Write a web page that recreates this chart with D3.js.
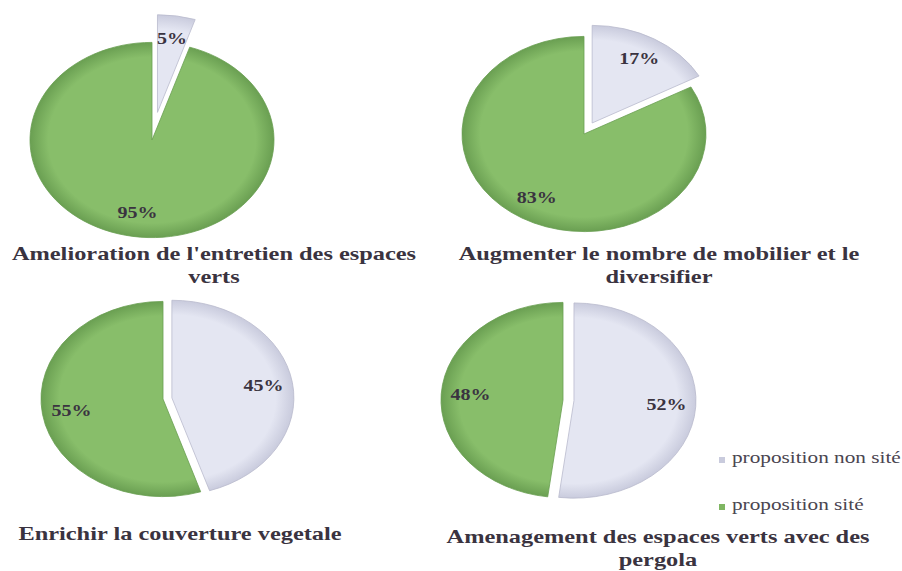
<!DOCTYPE html>
<html>
<head>
<meta charset="utf-8">
<script src="https://cdn.jsdelivr.net/npm/d3@7"></script>
<style>
  html, body { margin: 0; padding: 0; background: #fff; }
  svg { display: block; }
  text { font-family: "Liberation Serif", "Times New Roman", serif; }
</style>
</head>
<body>
<svg id="chart" width="902" height="571"></svg>
<script>
// Survey results: share of proposals per site category
const titles = [
  ["Amelioration de l'entretien des espaces", "verts"],
  ["Augmenter le nombre de mobilier et le", "diversifier"],
  ["Enrichir la couverture vegetale"],
  ["Amenagement des espaces verts avec des", "pergola"]
];
const seriesNames = ["proposition non sité", "proposition sité"];
const nonSite = [5, 17, 45, 52];
const site = [95, 83, 55, 48];

// Layout of the four pies (page pixels)
const centers = [[152, 140], [584, 134], [163, 399], [563, 400]];
const explode = [35, 16, 9, 11];
const titlePos = [[214, 260, 283], [659, 260, 283], [180, 540], [658, 543, 566]];
const R = 122, K = 0.8;         // radius and vertical squash of the tilted pie
const stretch = 1.25;           // horizontal text stretch

const colors = { light: ["#e4e6f2", "#c9cbdd"], green: ["#88be6a", "#6a9f52"] };
const textColor = "#3a3340";

const svg = d3.select("#chart");
const defs = svg.append("defs");
Object.entries(colors).forEach(([k, c]) => {
  const g = defs.append("radialGradient").attr("id", "g-" + k)
    .attr("gradientUnits", "userSpaceOnUse")
    .attr("cx", 0).attr("cy", 0).attr("r", R);
  g.append("stop").attr("offset", "0%").attr("stop-color", c[0]);
  g.append("stop").attr("offset", "85%").attr("stop-color", c[0]);
  g.append("stop").attr("offset", "100%").attr("stop-color", c[1]);
});

const pie = d3.pie().sort(null).value(d => d);
const arc = d3.arc().innerRadius(0).outerRadius(R);
const labelArc = d3.arc().innerRadius(R * 0.76).outerRadius(R * 0.76);

function stretchedText(sel, x, y, txt) {
  return sel.append("text")
    .attr("transform", `translate(${x},${y}) scale(${stretch},1)`)
    .text(txt);
}

titles.forEach((lines, i) => {
  const [cx, cy] = centers[i];
  const arcs = pie([nonSite[i], site[i]]);
  const fills = ["url(#g-light)", "url(#g-green)"];

  arcs.forEach((a, j) => {
    const mid = (a.startAngle + a.endAngle) / 2;
    const d = j === 0 ? explode[i] : 0;
    const ox = d * Math.sin(mid), oy = -d * Math.cos(mid);
    svg.append("g")
      .attr("transform", `translate(${cx},${cy}) scale(1,${K}) translate(${ox},${oy})`)
      .append("path")
      .attr("d", arc(a))
      .attr("fill", fills[j])
      .attr("stroke", j === 0 ? "#b9bacd" : "#689e50")
      .attr("stroke-width", 0.8)
      .attr("vector-effect", "non-scaling-stroke");

    const c = labelArc.centroid(a);
    const lx = cx + ox + c[0], ly = cy + (oy + c[1]) * K;
    stretchedText(svg, lx, ly + 5, Math.round(a.value) + "%")
      .attr("text-anchor", "middle")
      .attr("font-weight", "bold")
      .attr("font-size", 16)
      .attr("fill", textColor);
  });

  const tp = titlePos[i];
  lines.forEach((ln, k) => {
    stretchedText(svg, tp[0], tp[1 + k], ln)
      .attr("text-anchor", "middle")
      .attr("font-weight", "bold")
      .attr("font-size", 19.5)
      .attr("fill", textColor);
  });
});

// Legend
const legend = svg.append("g").attr("transform", "translate(719,0)");
const legendY = [463, 510];
const legendFill = [colors.light[1], "#7fb662"];
seriesNames.forEach((name, i) => {
  legend.append("rect")
    .attr("x", 0).attr("y", legendY[i] - 6)
    .attr("width", 6).attr("height", 6)
    .attr("fill", legendFill[i]);
  stretchedText(legend, 13, legendY[i], name)
    .attr("font-size", 17)
    .attr("fill", "#4a4550");
});
</script>
</body>
</html>
